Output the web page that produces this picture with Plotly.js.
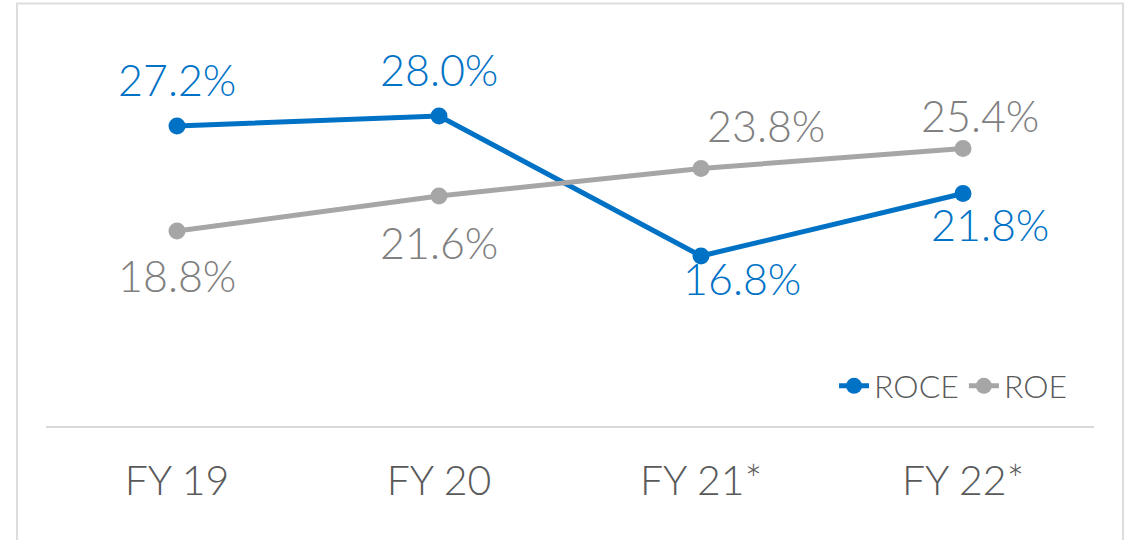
<!DOCTYPE html>
<html>
<head>
<meta charset="utf-8">
<script src="https://cdn.plot.ly/plotly-3.0.1.min.js"></script>
<style>html,body{margin:0;padding:0;background:#fff;}#chart{width:1135px;height:540px;}</style>
</head>
<body>
<div id="chart"></div>
<script>
const categories = ["FY 19", "FY 20", "FY 21*", "FY 22*"];
const roce = [27.2, 28.0, 16.8, 21.8];
const roe = [18.8, 21.6, 23.8, 25.4];
const roceLabels = ["27.2%", "28.0%", "16.8%", "21.8%"];
const roeLabels = ["18.8%", "21.6%", "23.8%", "25.4%"];

const blue = "#0072C6";
const gray = "#A6A6A6";
const grayText = "#808080";
const fontFam = "Lato, 'Open Sans', sans-serif";

// label offsets (pixels) relative to each point
const roceShift = [[0, 44], [0, 44], [41, -25], [27, -34]];
const roeShift = [[0, -47], [0, -49], [65, 40], [17, 30]];

const traces = [
  {
    x: categories, y: roce, name: "ROCE", type: "scatter", mode: "lines+markers",
    line: {color: blue, width: 5}, marker: {color: blue, size: 17},
    cliponaxis: false, hoverinfo: "skip"
  },
  {
    x: categories, y: roe, name: "ROE", type: "scatter", mode: "lines+markers",
    line: {color: gray, width: 5}, marker: {color: gray, size: 17},
    cliponaxis: false, hoverinfo: "skip"
  }
];

const annotations = [];
function addLabels(vals, labels, shifts, color) {
  vals.forEach((v, i) => {
    annotations.push({
      x: categories[i], y: v, xref: "x", yref: "y", text: labels[i], showarrow: false,
      xanchor: "center", yanchor: "middle", xshift: shifts[i][0], yshift: shifts[i][1] + 3,
      font: {family: fontFam, size: 43, color: color, weight: 300}
    });
  });
}
addLabels(roce, roceLabels, roceShift, blue);
addLabels(roe, roeLabels, roeShift, grayText);

const layout = {
  width: 1135, height: 540,
  margin: {l: 46, r: 41, t: 10, b: 114},
  paper_bgcolor: "#ffffff", plot_bgcolor: "#ffffff",
  font: {family: fontFam, color: "#595959"},
  xaxis: {
    type: "category", range: [-0.5, 3.5], showgrid: false, zeroline: false,
    showline: true, linecolor: "#D9D9D9", linewidth: 2, ticks: "",
    tickfont: {family: fontFam, size: 41, color: "#595959", weight: 300},
    ticklabelstandoff: 18, fixedrange: true
  },
  yaxis: {visible: false, range: [3.2, 36.48], showgrid: false, zeroline: false, fixedrange: true},
  showlegend: true,
  legend: {
    orientation: "h", x: 0.98, xanchor: "right", y: 0.096, yanchor: "middle",
    font: {family: fontFam, size: 32, color: "#595959", weight: 300},
    bgcolor: "rgba(0,0,0,0)", itemwidth: 30, tracegroupgap: 0
  },
  annotations: annotations,
  shapes: [
    {type: "rect", xref: "paper", yref: "paper", x0: -0.0277, x1: 1.0277, y0: -0.3, y1: 1.0156,
     line: {color: "#DDDDDD", width: 2}, fillcolor: "rgba(0,0,0,0)", layer: "below"}
  ]
};

Plotly.newPlot("chart", traces, layout, {displayModeBar: false, staticPlot: true});
</script>
</body>
</html>
